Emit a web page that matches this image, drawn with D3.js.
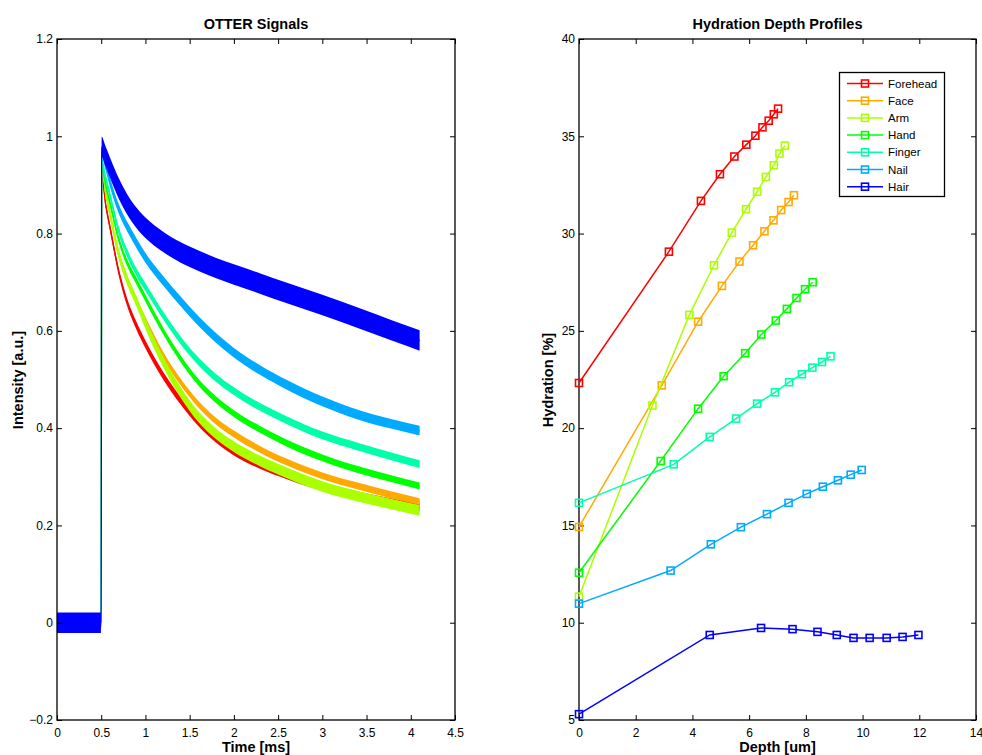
<!DOCTYPE html>
<html><head><meta charset="utf-8">
<script src="https://cdn.jsdelivr.net/npm/d3@7"></script>
<style>
body{margin:0;background:#fff;}
text{font-family:"Liberation Sans",Arial,Helvetica,sans-serif;fill:#000;}
</style>
</head><body>
<svg id="chart" width="982" height="755"></svg>
<script>
// ---------- data ----------
const seriesNames = ["Forehead","Face","Arm","Hand","Finger","Nail","Hair"];
const seriesColors = ["#ff0000","#ffaa00","#aaff00","#00ff00","#00ffaa","#00aaff","#0000ff"];

// OTTER signals (time in ms, intensity a.u.)
const signalTimes = [0, 0.5, 0.505, 0.55, 0.6, 0.7, 0.8, 0.9, 1.0, 1.2, 1.4, 1.6, 1.8, 2.0, 2.3, 2.6, 3.0, 3.4, 3.8, 4.1];
const foreheadSignal = [0, 0, 0.92, 0.86, 0.812, 0.72, 0.655, 0.61, 0.572, 0.508, 0.456, 0.412, 0.378, 0.352, 0.324, 0.303, 0.279, 0.262, 0.247, 0.237];
const faceSignal     = [0, 0, 0.93, 0.885, 0.84, 0.755, 0.703, 0.661, 0.622, 0.55, 0.494, 0.449, 0.414, 0.388, 0.356, 0.33, 0.302, 0.281, 0.262, 0.249];
const armSignal      = [0, 0, 0.95, 0.885, 0.84, 0.757, 0.702, 0.66, 0.615, 0.536, 0.473, 0.423, 0.388, 0.362, 0.332, 0.308, 0.28, 0.26, 0.243, 0.231];
const handSignal     = [0, 0, 0.94, 0.90, 0.862, 0.787, 0.737, 0.702, 0.667, 0.60, 0.542, 0.494, 0.458, 0.43, 0.397, 0.369, 0.339, 0.315, 0.295, 0.281];
const fingerSignal   = [0, 0, 0.95, 0.915, 0.878, 0.805, 0.757, 0.72, 0.69, 0.632, 0.58, 0.537, 0.503, 0.476, 0.443, 0.416, 0.385, 0.362, 0.341, 0.326];
const nailSignal     = [0, 0, 0.97, 0.94, 0.905, 0.85, 0.812, 0.78, 0.75, 0.703, 0.66, 0.62, 0.585, 0.555, 0.519, 0.489, 0.455, 0.428, 0.408, 0.395];
const hairSignal     = [0, 0, 0.978, 0.958, 0.935, 0.892, 0.858, 0.832, 0.812, 0.783, 0.761, 0.744, 0.729, 0.716, 0.697, 0.678, 0.653, 0.627, 0.600, 0.580];
// half-width of the noise band of each signal
const signalNoise = [0.008, 0.007, 0.011, 0.007, 0.008, 0.01, 0.021];

// Hydration depth profiles (depth um, hydration %)
const foreheadDepth = [0, 3.17, 4.30, 4.97, 5.48, 5.90, 6.22, 6.47, 6.69, 6.87, 7.02];
const foreheadHyd   = [22.32, 29.07, 31.68, 33.05, 33.96, 34.57, 35.03, 35.46, 35.80, 36.13, 36.42];
const faceDepth = [0, 2.92, 4.20, 5.04, 5.66, 6.14, 6.54, 6.86, 7.13, 7.39, 7.58];
const faceHyd   = [14.92, 22.20, 25.47, 27.31, 28.56, 29.40, 30.12, 30.68, 31.21, 31.62, 31.97];
const armDepth = [0, 2.59, 3.89, 4.76, 5.39, 5.89, 6.28, 6.59, 6.87, 7.07, 7.26];
const armHyd   = [11.34, 21.16, 25.82, 28.37, 30.05, 31.25, 32.15, 32.91, 33.51, 34.11, 34.52];
const handDepth = [0, 2.88, 4.20, 5.10, 5.86, 6.43, 6.94, 7.33, 7.67, 7.97, 8.24];
const handHyd   = [12.57, 18.31, 21.00, 22.67, 23.85, 24.81, 25.53, 26.13, 26.69, 27.14, 27.50];
const fingerDepth = [0, 3.34, 4.61, 5.54, 6.28, 6.91, 7.41, 7.86, 8.23, 8.57, 8.87];
const fingerHyd   = [16.16, 18.14, 19.55, 20.49, 21.26, 21.84, 22.36, 22.77, 23.11, 23.40, 23.69];
const nailDepth = [0, 3.23, 4.65, 5.71, 6.63, 7.39, 8.03, 8.60, 9.13, 9.58, 9.97];
const nailHyd   = [10.98, 12.68, 14.03, 14.91, 15.58, 16.16, 16.62, 16.99, 17.32, 17.61, 17.85];
const hairDepth = [0, 4.61, 6.42, 7.53, 8.41, 9.09, 9.68, 10.25, 10.85, 11.41, 11.97];
const hairHyd   = [5.30, 9.37, 9.73, 9.67, 9.53, 9.37, 9.22, 9.22, 9.22, 9.27, 9.37];

const leftXTicks = [0, 0.5, 1, 1.5, 2, 2.5, 3, 3.5, 4, 4.5];
const leftYTicks = [-0.2, 0, 0.2, 0.4, 0.6, 0.8, 1, 1.2];
const rightXTicks = [0, 2, 4, 6, 8, 10, 12, 14];
const rightYTicks = [5, 10, 15, 20, 25, 30, 35, 40];

// ---------- build ----------
const signals = [foreheadSignal, faceSignal, armSignal, handSignal, fingerSignal, nailSignal, hairSignal];
const depths = [foreheadDepth, faceDepth, armDepth, handDepth, fingerDepth, nailDepth, hairDepth];
const hyds = [foreheadHyd, faceHyd, armHyd, handHyd, fingerHyd, nailHyd, hairHyd];

const svg = d3.select("#chart");
const plotTop = 39, plotBottom = 720;

function frame(x, y, xTicks, yTicks, fmtX, fmtY) {
  const g = svg.append("g");
  const [x0, x1] = x.range();
  g.append("g").attr("transform", `translate(0,${plotBottom})`)
    .call(d3.axisBottom(x).tickValues(xTicks).tickFormat(fmtX).tickSizeInner(-5).tickSizeOuter(0).tickPadding(8));
  g.append("g").attr("transform", `translate(0,${plotTop})`)
    .call(d3.axisTop(x).tickValues(xTicks).tickFormat("").tickSizeInner(-5).tickSizeOuter(0));
  g.append("g").attr("transform", `translate(${x0},0)`)
    .call(d3.axisLeft(y).tickValues(yTicks).tickFormat(fmtY).tickSizeInner(-5).tickSizeOuter(0).tickPadding(4));
  g.append("g").attr("transform", `translate(${x1},0)`)
    .call(d3.axisRight(y).tickValues(yTicks).tickFormat("").tickSizeInner(-5).tickSizeOuter(0));
  g.selectAll(".domain").remove();
  g.selectAll(".tick line").attr("stroke", "#000").attr("stroke-width", 1);
  g.selectAll(".tick text").attr("font-size", 12).attr("fill", "#000")
    .style("font-family", '"Liberation Sans",Arial,sans-serif');
  g.append("rect").attr("x", x0).attr("y", plotTop).attr("width", x1 - x0).attr("height", plotBottom - plotTop)
    .attr("fill", "none").attr("stroke", "#000").attr("stroke-width", 1.3);
  return g;
}

function labels(cx, title, xlab, ylab, ylx) {
  svg.append("text").attr("x", cx).attr("y", 29).attr("text-anchor", "middle")
    .attr("font-size", 14.5).attr("font-weight", "bold").text(title);
  svg.append("text").attr("x", cx).attr("y", 752).attr("text-anchor", "middle")
    .attr("font-size", 14.5).attr("font-weight", "bold").text(xlab);
  svg.append("text").attr("transform", `translate(${ylx},380) rotate(-90)`).attr("text-anchor", "middle")
    .attr("font-size", 14.5).attr("font-weight", "bold").text(ylab);
}

// ----- left: OTTER signals -----
const xL = d3.scaleLinear().domain([0, 4.5]).range([57, 455]);
const yL = d3.scaleLinear().domain([-0.2, 1.2]).range([plotBottom, plotTop]);

const gL = svg.append("g");
signals.forEach((vals, i) => {
  const pts = signalTimes.map((t, j) => ({t, v: vals[j]}));
  const w = signalNoise[i];
  gL.append("path").datum(pts)
    .attr("d", d3.area().x(d => xL(d.t)).y0(d => yL(d.v - w)).y1(d => yL(d.v + w)).curve(d3.curveMonotoneX))
    .attr("fill", seriesColors[i]).attr("stroke", "none");
  gL.append("path").datum(pts)
    .attr("d", d3.line().x(d => xL(d.t)).y(d => yL(d.v)).curve(d3.curveMonotoneX))
    .attr("fill", "none").attr("stroke", seriesColors[i]).attr("stroke-width", 1.2);
});
frame(xL, yL, leftXTicks, leftYTicks, d3.format("~g"), d3.format("~g"));
labels(256, "OTTER Signals", "Time [ms]", "Intensity [a.u.]", 23);

// ----- right: hydration depth profiles -----
const xR = d3.scaleLinear().domain([0, 14]).range([579, 976]);
const yR = d3.scaleLinear().domain([5, 40]).range([plotBottom, plotTop]);
frame(xR, yR, rightXTicks, rightYTicks, d3.format("~g"), d3.format("~g"));
labels(777.5, "Hydration Depth Profiles", "Depth [um]", "Hydration [%]", 553);

const ms = 7;
const gR = svg.append("g");
depths.forEach((dep, i) => {
  const pts = dep.map((d, j) => ({d, h: hyds[i][j]}));
  gR.append("path").datum(pts)
    .attr("d", d3.line().x(p => xR(p.d)).y(p => yR(p.h)))
    .attr("fill", "none").attr("stroke", seriesColors[i]).attr("stroke-width", 1.5);
  gR.selectAll(null).data(pts).enter().append("rect")
    .attr("x", p => xR(p.d) - ms / 2).attr("y", p => yR(p.h) - ms / 2)
    .attr("width", ms).attr("height", ms)
    .attr("fill", "none").attr("stroke", seriesColors[i]).attr("stroke-width", 1.6);
});

// legend
const lg = svg.append("g");
lg.append("rect").attr("x", 839.5).attr("y", 72.5).attr("width", 105).attr("height", 124)
  .attr("fill", "#fff").attr("stroke", "#000").attr("stroke-width", 1.3);
seriesNames.forEach((name, i) => {
  const yy = 83.5 + i * 17.2;
  lg.append("line").attr("x1", 847).attr("x2", 883).attr("y1", yy).attr("y2", yy)
    .attr("stroke", seriesColors[i]).attr("stroke-width", 1.5);
  lg.append("rect").attr("x", 865 - ms / 2).attr("y", yy - ms / 2).attr("width", ms).attr("height", ms)
    .attr("fill", "none").attr("stroke", seriesColors[i]).attr("stroke-width", 1.6);
  lg.append("text").attr("x", 888).attr("y", yy).attr("dy", "0.35em")
    .attr("font-size", 11.5).text(name);
});
</script>
</body></html>
